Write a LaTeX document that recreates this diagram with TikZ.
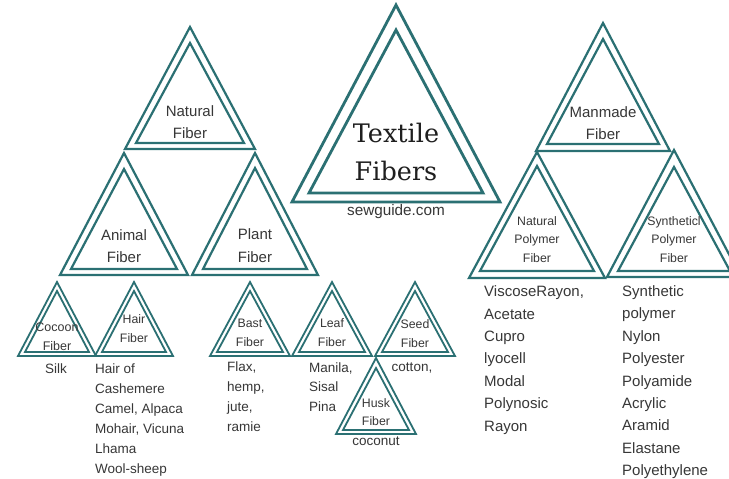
\documentclass[tikz,border=0pt]{standalone}
\usepackage{fontspec}
\setsansfont{Liberation Sans}
\newfontfamily\slabfont{DejaVu Serif}
\definecolor{teal1}{RGB}{43,112,115}
\definecolor{txt}{RGB}{55,55,55}
\newcommand\fibtri[9]{% name, cx, top, bot, hw, itop, ibot, ihw, width
  \coordinate (#1) at (#2,#3);
  \draw[triline, line width=#9] (#2,#3) -- (#2-#5,#4) -- (#2+#5,#4) -- cycle;
  \draw[triline, line width=#9] (#2,#6) -- (#2-#8,#7) -- (#2+#8,#7) -- cycle;}
\newcommand\fs[2]{\fontsize{#1}{#2}\selectfont}
\begin{document}
\begin{tikzpicture}[x=1pt,y=-1pt,
  triline/.style={draw=teal1, line join=miter},
  lbl/.style={text=txt, inner sep=0pt, align=center, anchor=base, font=\sffamily},
  lst/.style={text=txt, inner sep=0pt, align=left, anchor=base west, font=\sffamily}]
\clip (0,0) rectangle (729,479);
\fill[white] (0,0) rectangle (729,479);
% big triangles
\fibtri{natural}{190}{27}{149}{65}{43}{143}{54}{2.2pt}
\fibtri{animal}{124}{153}{275}{64}{169}{269}{53}{2.2pt}
\fibtri{plant}{255}{153}{275}{63}{168}{269}{52}{2.2pt}
\fibtri{textile}{396}{5}{202}{104}{30}{193}{87}{2.8pt}
\fibtri{manmade}{603}{23}{151}{67}{39}{144}{56}{2.2pt}
\fibtri{natpoly}{537}{152}{278}{68}{166}{271}{57}{2.2pt}
\fibtri{synpoly}{674}{150}{277}{67}{167}{271}{56}{2.2pt}
% small triangles
\fibtri{cocoon}{57}{282}{356}{39}{291}{352}{32}{1.8pt}
\fibtri{hair}{134}{282}{356}{39}{291}{352}{32}{1.8pt}
\fibtri{bast}{250}{282}{356}{40}{291}{352}{33}{1.8pt}
\fibtri{leaf}{332}{282}{356}{40}{291}{352}{33}{1.8pt}
\fibtri{seed}{415}{282}{356}{40}{291}{352}{33}{1.8pt}
\fibtri{husk}{376}{358}{434}{40}{368}{430}{33}{1.8pt}
% labels (anchor base = baseline of last line)
\node[lbl, font=\sffamily\fs{15}{22}] (tnatural) at (190,138) {Natural\\Fiber};
\node[lbl, font=\sffamily\fs{15}{22}] (tanimal) at (124,262) {Animal\\Fiber};
\node[lbl, font=\sffamily\fs{15}{23}] (tplant) at (255,262) {Plant\\Fiber};
\node[lbl, font=\slabfont\fs{25.5}{38}, text=black!88] (ttextile) at (396,180) {Textile\\Fibers};
\node[lbl, font=\sffamily\fs{15.3}{18}] (tsew) at (396,215) {sewguide.com};
\node[lbl, font=\sffamily\fs{15}{22}] (tmanmade) at (603,139) {Manmade\\Fiber};
\node[lbl, font=\sffamily\fs{12.3}{18.5}] (tnatpoly) at (537,262) {Natural\\Polymer\\Fiber};
\node[lbl, font=\sffamily\fs{12.3}{18.5}] (tsynpoly) at (674,262) {Syntheticl\\Polymer\\Fiber};
\node[lbl, font=\sffamily\fs{12.5}{19}] (tcocoon) at (57,350) {Cocoon\\Fiber};
\node[lbl, font=\sffamily\fs{12.3}{19}] (thair) at (134,342) {Hair\\Fiber};
\node[lbl, font=\sffamily\fs{12.3}{19}] (tbast) at (250,346) {Bast\\Fiber};
\node[lbl, font=\sffamily\fs{12.3}{19}] (tleaf) at (332,346) {Leaf\\Fiber};
\node[lbl, font=\sffamily\fs{12.3}{19}] (tseed) at (415,347) {Seed\\Fiber};
\node[lbl, font=\sffamily\fs{12.3}{18}] (thusk) at (376,425) {Husk\\Fiber};
% examples
\node[lbl, font=\sffamily\fs{13.5}{20}] (silk) at (56,373) {Silk};
\node[lst, font=\sffamily\fs{13.5}{20}] (hairlist) at (95,473) {Hair of\\Cashemere\\Camel, Alpaca\\Mohair, Vicuna\\Lhama\\Wool-sheep};
\node[lst, font=\sffamily\fs{13.5}{19.7}] (bastlist) at (227,431) {Flax,\\hemp,\\jute,\\ramie};
\node[lst, font=\sffamily\fs{13.5}{19.7}] (leaflist) at (309,411.4) {Manila,\\Sisal\\Pina};
\node[lbl, font=\sffamily\fs{13.5}{20}] (cotton) at (412,371) {cotton,};
\node[lbl, font=\sffamily\fs{13.5}{20}] (coconut) at (376,445) {coconut};
\node[lst, font=\sffamily\fs{15}{22.4}] (natpolylist) at (484,431) {ViscoseRayon,\\Acetate\\Cupro\\lyocell\\Modal\\Polynosic\\Rayon};
\node[lst, font=\sffamily\fs{15}{22.4}] (synpolylist) at (622,475.7) {Synthetic\\polymer\\Nylon\\Polyester\\Polyamide\\Acrylic\\Aramid\\Elastane\\Polyethylene};
\end{tikzpicture}
\end{document}
